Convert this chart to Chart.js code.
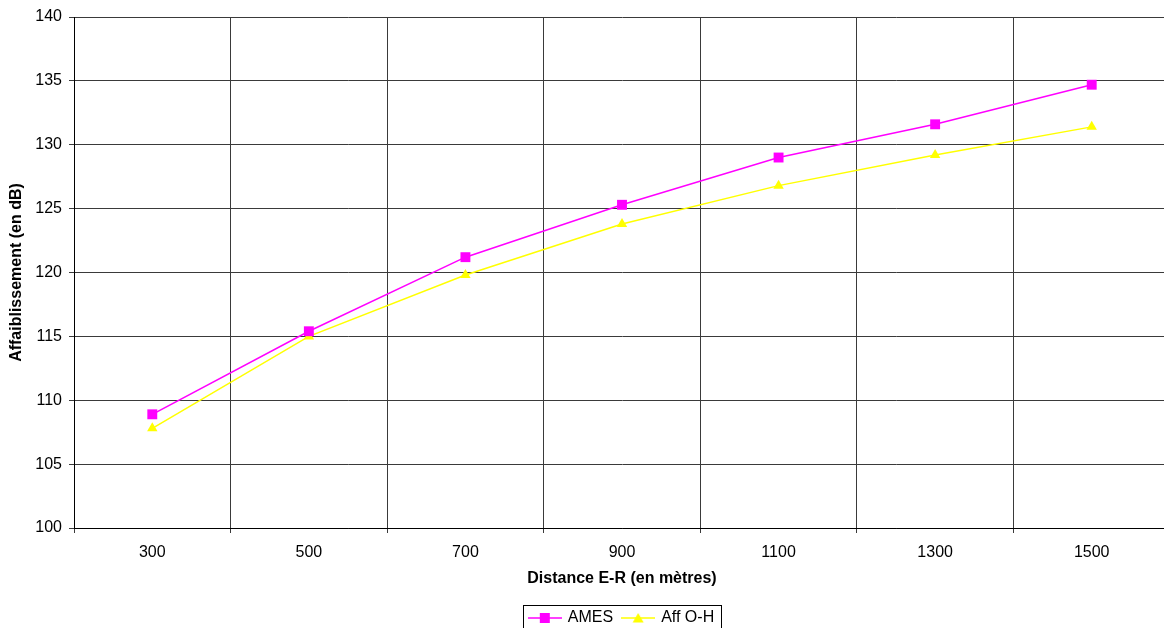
<!DOCTYPE html>
<html>
<head>
<meta charset="utf-8">
<script src="https://cdn.jsdelivr.net/npm/chart.js@4/dist/chart.umd.min.js"></script>
<style>
  html, body { margin: 0; padding: 0; background: #fff; overflow: hidden; }
  #wrap { width: 1164px; height: 628px; overflow: hidden; }
</style>
</head>
<body>
<div id="wrap"><canvas id="affChart" width="1177" height="628"></canvas></div>
<script>
// distances E-R (m)
const distances = ["300", "500", "700", "900", "1100", "1300", "1500"];
// affaiblissement (dB)
const ames = [108.9, 115.4, 121.2, 125.3, 129.0, 131.6, 134.7];
const affOH = [107.8, 115.0, 119.8, 123.8, 126.8, 129.2, 131.4];
const yMin = 100, yMax = 140, yStep = 5;

const FONT = "'Liberation Sans', Arial, sans-serif";

// legend sample: line with marker in the middle
function legendSample(color, shape) {
    const c = document.createElement("canvas");
    c.width = 34; c.height = 12;
    const g = c.getContext("2d");
    g.strokeStyle = color;
    g.lineWidth = 1.5;
    g.beginPath(); g.moveTo(0, 6); g.lineTo(34, 6); g.stroke();
    g.fillStyle = color;
    if (shape === "rect") {
        g.fillRect(12, 1, 10, 10);
    } else {
        g.beginPath(); g.moveTo(17, 1); g.lineTo(22.5, 10.5); g.lineTo(11.5, 10.5); g.closePath(); g.fill();
    }
    return c;
}
const samples = [legendSample("#ff00ff", "rect"), legendSample("#ffff00", "triangle")];

const legendBox = {
    id: "legendBox",
    afterDraw(chart) {
        const boxes = chart.legend && chart.legend.legendHitBoxes;
        if (!boxes || !boxes.length) return;
        const left = Math.min(...boxes.map(b => b.left)) - 7;
        const right = Math.max(...boxes.map(b => b.left + b.width)) + 7;
        const top = boxes[0].top - 5;
        const ctx = chart.ctx;
        ctx.save();
        ctx.strokeStyle = "#000";
        ctx.lineWidth = 1;
        ctx.strokeRect(Math.round(left) + 0.5, Math.round(top) + 0.5, Math.round(right - left), 40);
        ctx.restore();
    }
};

const ctx = document.getElementById("affChart");
const chart = new Chart(ctx, {
    type: "line",
    data: {
        labels: distances,
        datasets: [{
            label: "AMES",
            data: ames,
            borderColor: "#ff00ff",
            backgroundColor: "#ff00ff",
            borderWidth: 1.5,
            pointStyle: "rect",
            pointRadius: 7,
            pointBorderWidth: 0,
            tension: 0
        }, {
            label: "Aff O-H",
            data: affOH,
            borderColor: "#ffff00",
            backgroundColor: "#ffff00",
            borderWidth: 1.5,
            pointStyle: "triangle",
            pointRadius: 6,
            pointBorderWidth: 0,
            tension: 0
        }]
    },
    options: {
        responsive: false,
        animation: false,
        layout: { padding: { top: 17, right: 2, left: 0, bottom: 0 } },
        scales: {
            x: {
                offset: true,
                grid: { offset: true, color: "#3a3a3a", lineWidth: 1, tickLength: 5 },
                border: { color: "#000", width: 1 },
                ticks: { color: "#000", font: { family: FONT, size: 16 }, padding: 10, maxRotation: 0 },
                title: {
                    display: true, text: "Distance E-R (en mètres)", color: "#000",
                    font: { family: FONT, size: 16, weight: "bold" }, padding: { top: 12, bottom: 12 }
                },
                afterFit(s) { s.height = 72; }
            },
            y: {
                min: yMin, max: yMax,
                grid: { color: "#3a3a3a", lineWidth: 1, tickLength: 5 },
                border: { color: "#000", width: 1 },
                ticks: { stepSize: yStep, color: "#000", font: { family: FONT, size: 16 }, padding: 7 },
                title: {
                    display: true, text: "Affaiblissement (en dB)", color: "#000",
                    font: { family: FONT, size: 16, weight: "bold" }, padding: { top: 7, bottom: 7 }
                },
                afterFit(s) { s.width = 74; }
            }
        },
        plugins: {
            tooltip: { enabled: false },
            legend: {
                position: "bottom",
                fullSize: false,
                maxHeight: 28,
                labels: {
                    color: "#000",
                    font: { family: FONT, size: 16 },
                    usePointStyle: true,
                    pointStyleWidth: 30,
                    padding: 10,
                    generateLabels(ch) {
                        const items = Chart.defaults.plugins.legend.labels.generateLabels(ch);
                        items.forEach((it, i) => { it.pointStyle = samples[i]; });
                        return items;
                    }
                }
            }
        }
    },
    plugins: [legendBox]
});
</script>
</body>
</html>
